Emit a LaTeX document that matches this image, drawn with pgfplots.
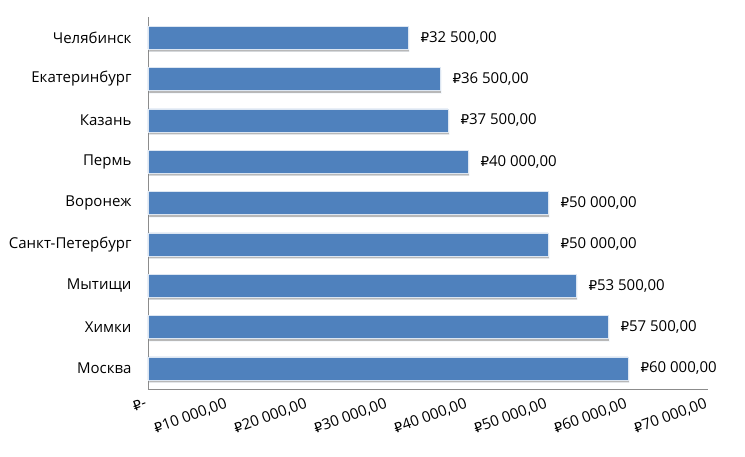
\documentclass[border=0pt]{standalone}
\usepackage{fontspec}
\setmainfont{Open Sans}
\newfontfamily\rub[Scale=0.9]{DejaVu Sans}
\usepackage{pgfplots}
\pgfplotsset{compat=1.18}
\usetikzlibrary{shadows}
\definecolor{barblue}{HTML}{4F81BD}
\newcommand{\R}{{\rub ₽}}
\begin{document}
\begin{tikzpicture}
\begin{axis}[
  at={(0,0)}, anchor=south west,
  scale only axis, width=560pt, height=372pt,
  xbar, bar width=23pt,
  xmin=0, xmax=70000, ymin=-0.5, ymax=8.5,
  ytick={0,...,8},
  yticklabels={Москва,Химки,Мытищи,Санкт-Петербург,Воронеж,Пермь,Казань,Екатеринбург,Челябинск},
  xtick={0,10000,20000,30000,40000,50000,60000,70000},
  xticklabels={{\R-},{\R10 000,00},{\R20 000,00},{\R30 000,00},{\R40 000,00},{\R50 000,00},{\R60 000,00},{\R70 000,00}},
  scaled x ticks=false,
  axis x line*=bottom, axis y line*=left,
  axis line style={draw=black!45, line width=0.8pt},
  major tick length=0pt, tick style={draw=none},
  xticklabel style={rotate=20, anchor=north east, font=\fontsize{15}{17}\selectfont, yshift=-3pt, xshift=-3pt},
  yticklabel style={font=\fontsize{15}{17}\selectfont, xshift=-13pt},
  nodes near coords, point meta=explicit symbolic,
  nodes near coords style={font=\fontsize{15}{17}\selectfont, anchor=west, xshift=9pt},
]
\addplot[fill=barblue, draw=white!80!barblue, line width=0.4pt,
  drop shadow={shadow xshift=0.8pt, shadow yshift=-2.5pt, fill=black, opacity=0.28}]
  coordinates {
  (60000,0) [\R60 000,00]
  (57500,1) [\R57 500,00]
  (53500,2) [\R53 500,00]
  (50000,3) [\R50 000,00]
  (50000,4) [\R50 000,00]
  (40000,5) [\R40 000,00]
  (37500,6) [\R37 500,00]
  (36500,7) [\R36 500,00]
  (32500,8) [\R32 500,00]
  };
\end{axis}
\path (-148pt,-68pt) rectangle (597pt,389pt);
\end{tikzpicture}
\end{document}
